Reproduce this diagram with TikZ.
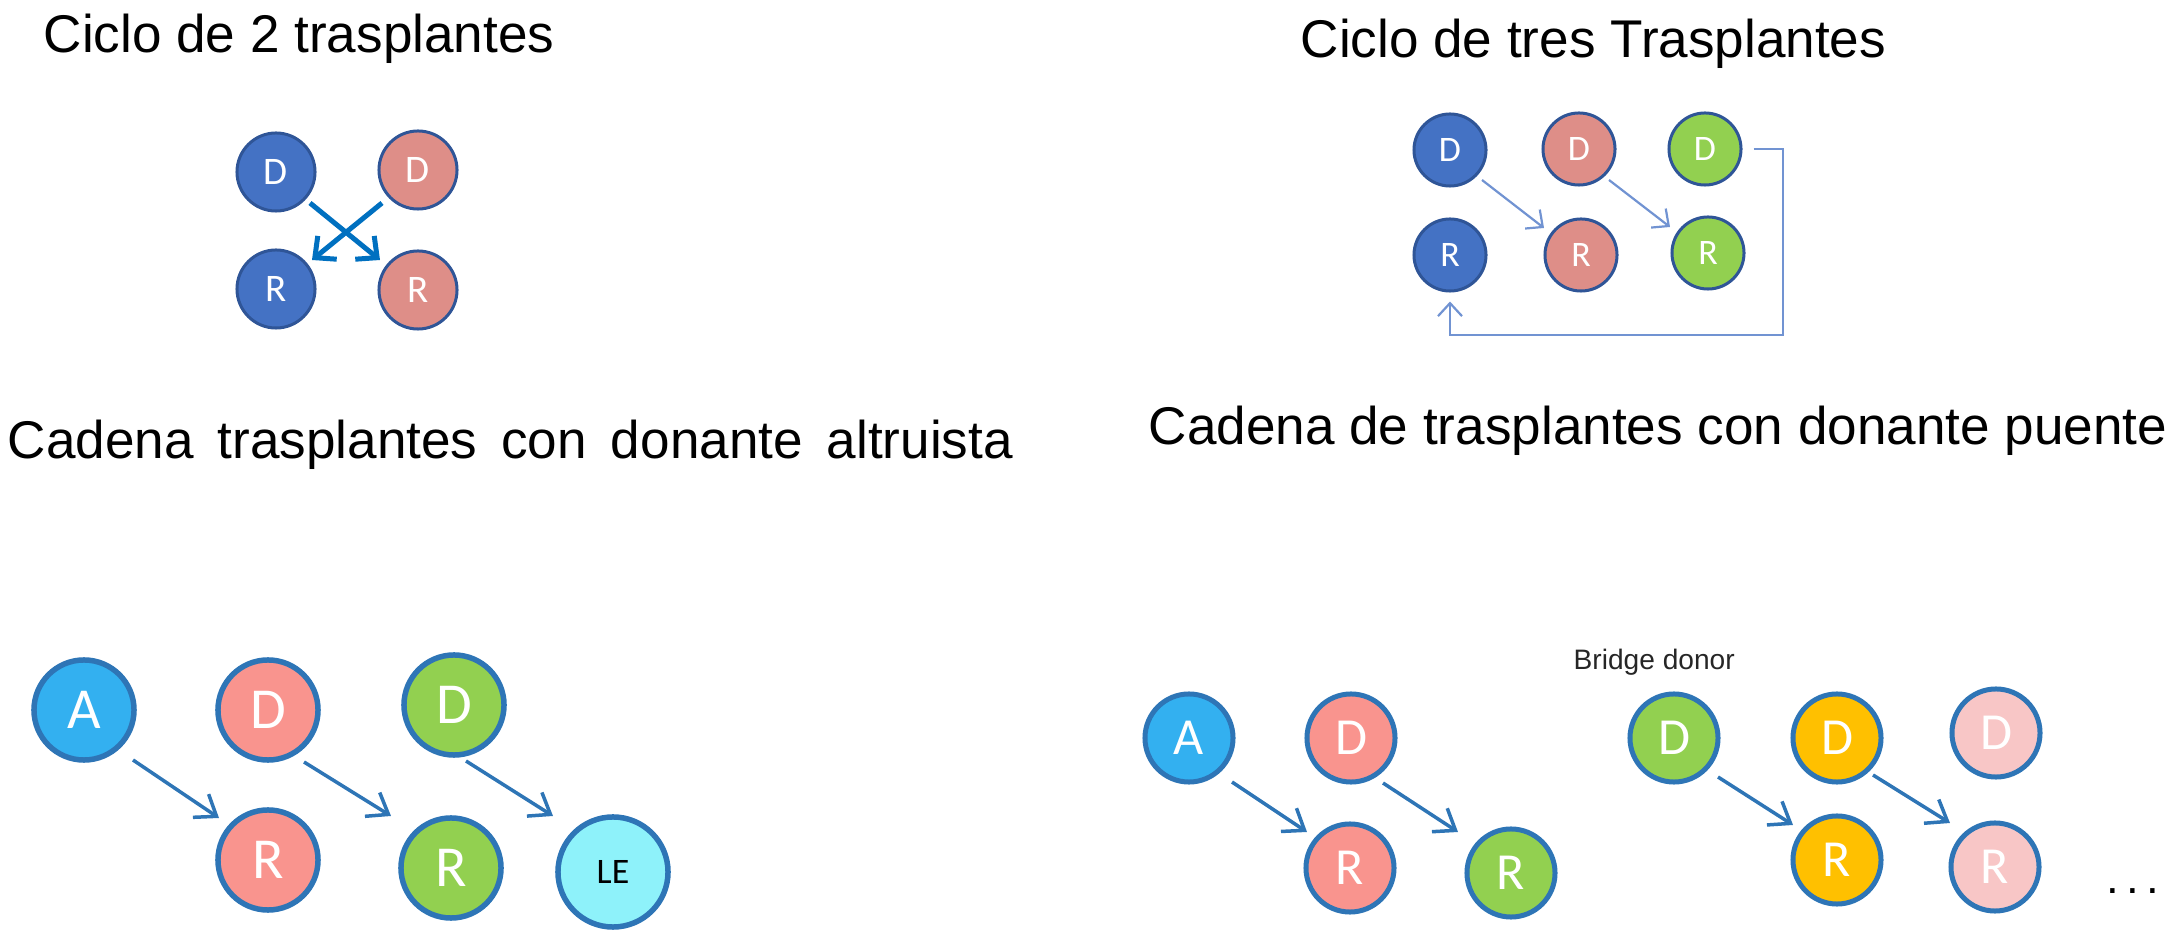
\documentclass[tikz,border=0pt]{standalone}
\usepackage{fontspec}
\setmainfont{Liberation Sans}
\newfontfamily\carl{Carlito}
\usetikzlibrary{arrows.meta,calc}
\definecolor{tlblue}{HTML}{4472C4}
\definecolor{tlpink}{HTML}{DE8E88}
\definecolor{tlborder}{HTML}{2F5597}
\definecolor{tlarrow}{HTML}{0070C0}
\definecolor{trarrow}{HTML}{7193D2}
\definecolor{trgreen}{HTML}{92D050}
\definecolor{bborder}{HTML}{2E75B6}
\definecolor{bA}{HTML}{33B0F0}
\definecolor{bpink}{HTML}{F9948E}
\definecolor{bgreen}{HTML}{92D050}
\definecolor{bLE}{HTML}{8EF2FA}
\definecolor{borange}{HTML}{FFC000}
\definecolor{blpink}{HTML}{F8C6C6}
\newcommand{\wsp}{\hspace{0.24cm}}
\tikzset{
  title/.style={anchor=base west,inner sep=0pt,font=\fontsize{15.1}{18}\selectfont},
  tlnode/.style={circle,draw=tlborder,line width=0.03cm,minimum size=0.78cm,inner sep=0pt,text=white,font=\carl\fontsize{11.1}{13}\selectfont},
  trnode/.style={circle,draw=tlborder,line width=0.03cm,minimum size=0.72cm,inner sep=0pt,text=white,font=\carl\fontsize{10.2}{12}\selectfont},
  blnode/.style={circle,draw=bborder,line width=0.055cm,minimum size=1.0cm,inner sep=0pt,text=white,font=\carl\fontsize{16.5}{19}\selectfont},
  brnode/.style={circle,draw=bborder,line width=0.05cm,minimum size=0.88cm,inner sep=0pt,text=white,font=\carl\fontsize{14.8}{17}\selectfont},
  tlarr/.style={draw=tlarrow,line width=0.05cm,-{Straight Barb[length=0.16cm,width=0.30cm]}},
  trarr/.style={draw=trarrow,line width=0.022cm,-{Straight Barb[length=0.13cm,width=0.24cm]}},
  barr/.style={draw=bborder,line width=0.035cm,-{Straight Barb[length=0.19cm,width=0.28cm]}},
}
\begin{document}
\begin{tikzpicture}[x=0.01cm,y=-0.01cm]
\useasboundingbox (0,0) rectangle (2181,931);
% titles
\node[title] (t1) at (43,53) {Ciclo de 2 trasplantes};
\node[title] (t2) at (1300,58) {Ciclo de tres Trasplantes};
\node[title] (t3) at (7,459) {Cadena\wsp trasplantes\wsp con\wsp donante\wsp altruista};
\node[title] (t4) at (1148,445) {Cadena de trasplantes con donante puente};
% top-left: cycle of 2
\node[tlnode,fill=tlblue] (tlDb) at (276,172) {D};
\node[tlnode,fill=tlpink] (tlDp) at (418,170) {D};
\node[tlnode,fill=tlblue] (tlRb) at (276,289) {R};
\node[tlnode,fill=tlpink] (tlRp) at (418,290) {R};
\draw[tlarr] ($(tlDb)+(34,31)$) -- ($(tlRp)+(-38,-30)$);
\draw[tlarr] ($(tlDp)+(-36,33)$) -- ($(tlRb)+(36,-29)$);
% top-right: cycle of 3
\node[trnode,fill=tlblue] (trDb) at (1450,150) {D};
\node[trnode,fill=tlpink] (trDp) at (1579,149) {D};
\node[trnode,fill=trgreen] (trDg) at (1705,149) {D};
\node[trnode,fill=tlblue] (trRb) at (1450,255) {R};
\node[trnode,fill=tlpink] (trRp) at (1581,255) {R};
\node[trnode,fill=trgreen] (trRg) at (1708,253) {R};
\coordinate (trc) at (1783,335);
\draw[trarr] ($(trDb)+(32,30)$) -- ($(trRp)+(-37,-27)$);
\draw[trarr] ($(trDp)+(30,31)$) -- ($(trRg)+(-38,-26)$);
\draw[trarr,line join=miter] ($(trDg.east)+(11,0)$) -| (trc) -| ($(trRb.south)+(0,9)$);
% bottom-left: altruistic chain
\node[blnode,fill=bA] (blA) at (84,710) {A};
\node[blnode,fill=bpink] (blDp) at (268,710) {D};
\node[blnode,fill=bgreen] (blDg) at (454,705) {D};
\node[blnode,fill=bpink] (blRp) at (268,860) {R};
\node[blnode,fill=bgreen] (blRg) at (451,868) {R};
\node[blnode,fill=bLE,minimum size=1.1cm,text=black,font=\carl\fontsize{10.2}{12}\selectfont] (blLE) at (613,872) {LE};
\draw[barr] ($(blA)+(49,50)$) -- ($(blRp)+(-49,-42)$);
\draw[barr] ($(blDp)+(36,52)$) -- ($(blRg)+(-60,-52)$);
\draw[barr] ($(blDg)+(12,56)$) -- ($(blLE)+(-60,-56)$);
% bottom-right: bridge donor chain
\node[anchor=base west,inner sep=0pt,font=\fontsize{8}{10}\selectfont,text=black!85] (bridge) at (1573,670) {Bridge donor};
\node[brnode,fill=bA] (brA) at (1189,738) {A};
\node[brnode,fill=bpink] (brDp) at (1351,738) {D};
\node[brnode,fill=bpink] (brRp) at (1350,868) {R};
\node[brnode,fill=bgreen] (brRg) at (1511,873) {R};
\node[brnode,fill=bgreen] (brDg) at (1674,738) {D};
\node[brnode,fill=borange] (brDo) at (1837,738) {D};
\node[brnode,fill=borange] (brRo) at (1837,860) {R};
\node[brnode,fill=blpink] (brDl) at (1996,733) {D};
\node[brnode,fill=blpink] (brRl) at (1995,867) {R};
\node[anchor=base west,inner sep=0pt,font=\fontsize{13}{15}\selectfont] (dots) at (2106,894) {.\hspace{0.07cm}.\hspace{0.07cm}.};
\draw[barr] ($(brA)+(43,44)$) -- ($(brRp)+(-43,-36)$);
\draw[barr] ($(brDp)+(32,45)$) -- ($(brRg)+(-53,-41)$);
\draw[barr] ($(brDg)+(44,39)$) -- ($(brRo)+(-44,-35)$);
\draw[barr] ($(brDo)+(36,37)$) -- ($(brRl)+(-45,-44)$);
\end{tikzpicture}
\end{document}
